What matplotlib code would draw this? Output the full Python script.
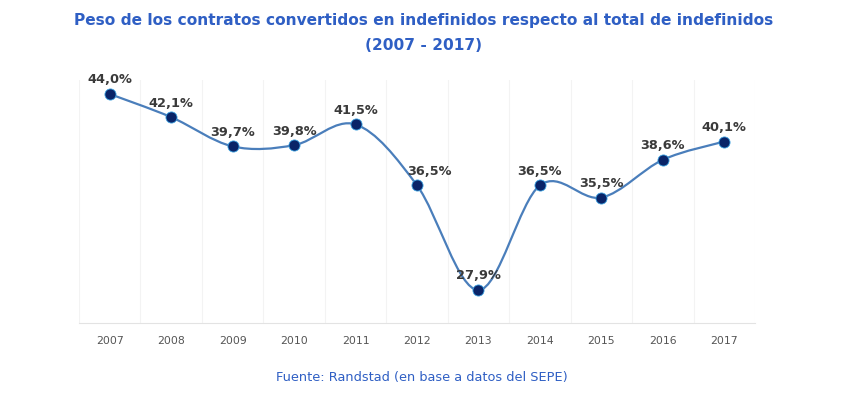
import numpy as np
import matplotlib.pyplot as plt
from matplotlib.path import Path
from matplotlib.patches import PathPatch

years = ["2007", "2008", "2009", "2010", "2011", "2012",
         "2013", "2014", "2015", "2016", "2017"]
values = [44.0, 42.1, 39.7, 39.8, 41.5, 36.5, 27.9, 36.5, 35.5, 38.6, 40.1]
labels = ["44,0%", "42,1%", "39,7%", "39,8%", "41,5%", "36,5%",
          "27,9%", "36,5%", "35,5%", "38,6%", "40,1%"]

title = ("Peso de los contratos convertidos en indefinidos respecto al total de indefinidos\n"
         "(2007 - 2017)")
source = "Fuente: Randstad (en base a datos del SEPE)"

blue_text = "#2f5fc4"
line_color = "#4a7ebb"
marker_color = "#0a2468"


def smooth_path(xs, ys):
    # Catmull-Rom style bezier through the points (like a "smoothed line")
    pts = np.column_stack([xs, ys]).astype(float)
    n = len(pts)
    verts = [tuple(pts[0])]
    codes = [Path.MOVETO]
    for i in range(1, n):
        p0 = pts[i - 2] if i >= 2 else pts[i - 1]
        p1 = pts[i - 1]
        p2 = pts[i]
        p3 = pts[i + 1] if i + 1 < n else pts[i]
        c1 = p1 + (p2 - p0) / 6
        c2 = p2 - (p3 - p1) / 6
        verts += [tuple(c1), tuple(c2), tuple(p2)]
        codes += [Path.CURVE4] * 3
    return Path(verts, codes)


fig = plt.figure(figsize=(8.48, 3.99), dpi=100)
ax = fig.add_axes([79 / 848, 1 - 323 / 399, 676 / 848, 243 / 399])

x = np.arange(len(years))
ax.add_patch(PathPatch(smooth_path(x, values), facecolor="none",
                       edgecolor=line_color, lw=1.6, zorder=3))
ax.plot(x, values, "o", color=marker_color, markersize=8,
        markeredgecolor="#3aa0e0", markeredgewidth=0.6, zorder=4)

for xi, v, lab in zip(x, values, labels):
    dx = 9 if xi == 5 else 0   # 2012 label sits a bit to the right
    ax.annotate(lab, (xi, v), xytext=(dx, 5.5), textcoords="offset points",
                ha="center", va="bottom", fontsize=9.3, fontweight="bold",
                color="#3a3a3a", zorder=5)

ax.set_xlim(-0.5, len(years) - 0.5)
ax.set_ylim(25.2, 45.15)
ax.set_xticks(x)
ax.set_xticklabels(years, fontsize=7.8, color="#555555")
ax.set_xticks(np.arange(-0.5, len(years), 1), minor=True)
ax.grid(which="minor", axis="x", color="#f3f3f3", lw=0.8)
ax.tick_params(axis="x", which="both", length=0, pad=9)
ax.set_yticks([])
for s in ["top", "left", "right"]:
    ax.spines[s].set_visible(False)
ax.spines["bottom"].set_color("#e3e3e3")

fig.text(0.5, 1 - 33 / 399, title, ha="center", va="center", fontsize=11.1,
         fontweight="bold", color=blue_text, linespacing=1.75)
fig.text(422 / 848, 1 - 377 / 399, source, ha="center", va="center",
         fontsize=9.25, color=blue_text)

fig.savefig("out.png", dpi=100)
